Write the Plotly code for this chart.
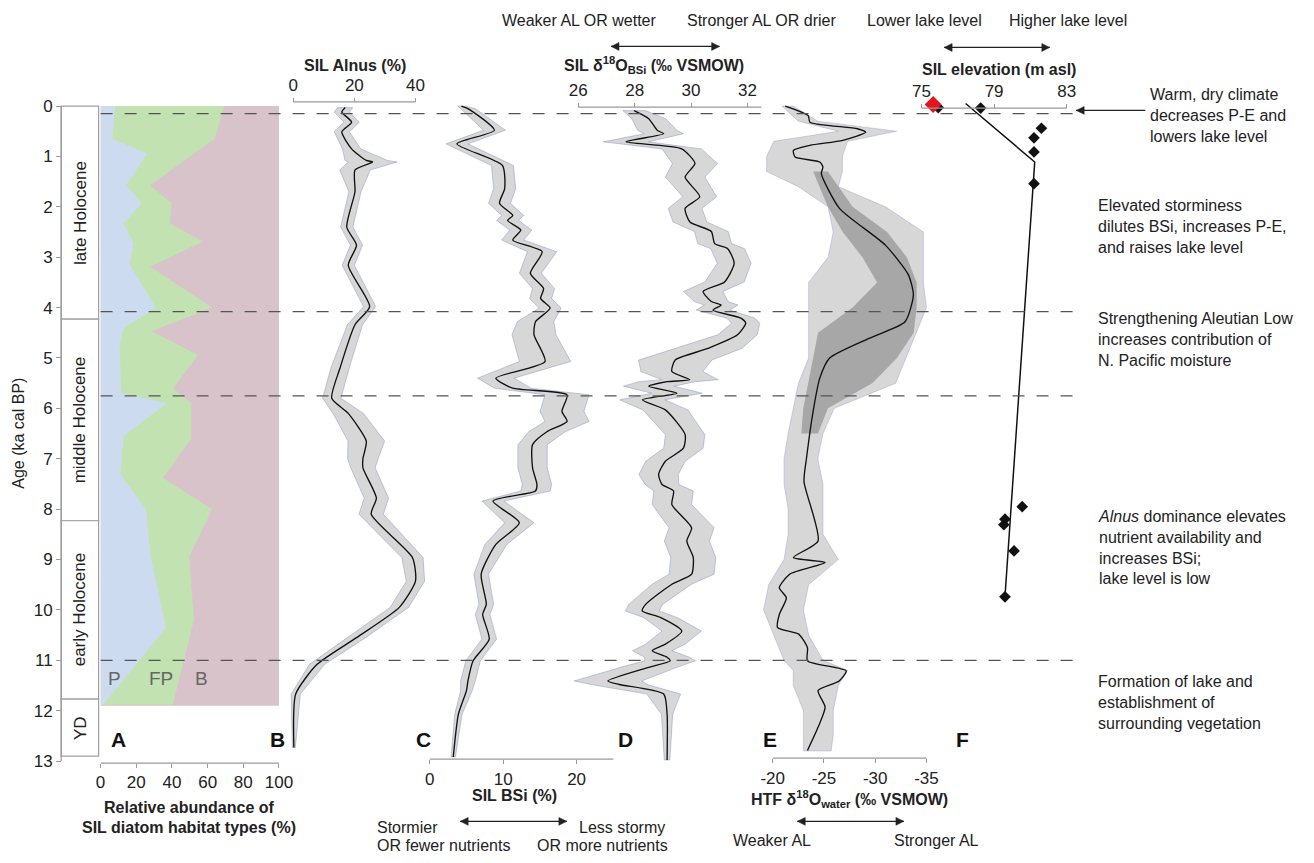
import plotly.graph_objects as go

W, H = 1314, 863
def X(p): return p / W
def Y(p): return 1 - p / H

FONT = "Arial, Liberation Sans, sans-serif"

# ---------------- data ----------------
# Panel A: cumulative habitat boundaries (%)
ages_P = [0, 0.65, 0.94, 1.57, 1.93, 2.33, 2.73, 3.15, 4.0, 4.4, 4.74, 5.7, 5.9, 6.55, 7.3, 8.0, 8.94, 10.35, 11.88]
P_bound = [8.3, 6.5, 26, 14.4, 23, 13, 18.5, 16.3, 31, 13, 10.7, 11.5, 37, 13, 11, 25.5, 28, 36.7, 1.5]
ages_FP = [0, 0.65, 1.57, 1.93, 2.33, 2.69, 3.19, 4.0, 4.47, 4.94, 5.6, 5.9, 6.6, 7.38, 8.0, 8.94, 10.2, 11.88]
FP_bound = [69.4, 63.9, 27.8, 39.8, 38.9, 57.4, 27.8, 62.6, 28.7, 54.6, 40.7, 50.9, 50.9, 35, 62.6, 49.6, 52.4, 40.4]
A_bottom_age = 11.9

# Panel B: SIL Alnus (%)
ages_B = [0.03, 0.12, 0.32, 0.51, 0.85, 1.08, 1.11, 1.27, 1.70, 2.40, 2.76, 3.16, 3.98, 4.34, 5.2, 5.8, 6.1,
          6.65, 7.0, 7.18, 7.78, 8.1, 8.96, 9.43, 9.95, 10.55, 11.08, 11.67, 12.73]
alnus = [17, 15.9, 19.1, 15.9, 19.1, 23.9, 26.0, 20.2, 20.2, 17.5, 20.7, 18.0, 25.0, 20.2, 15.3, 12.6, 18.0,
         23.9, 22.8, 22.8, 27.2, 25.5, 39.0, 40.0, 34.7, 20.7, 7.8, 0.8, 0.2]
alnus_sp = [2.5, 2.5, 2.5, 2.5, 3, 7, 8, 5, 2, 2, 2, 2, 2, 2.5, 3, 3, 5,
            6, 5, 4, 4, 4, 3.5, 3, 3, 3, 2.5, 1.5, 0.5]

# Panel C: SIL BSi (%)
ages_C = [0.0, 0.05, 0.48, 0.75, 1.18, 1.64, 1.93, 2.17, 2.27, 2.46, 2.66, 2.89, 3.32, 3.62, 3.82, 4.01, 4.28,
          4.54, 5.07, 5.40, 5.60, 5.73, 6.06, 6.26, 6.46, 6.72, 7.18, 7.51, 7.64, 7.84, 8.27, 8.70, 9.29, 9.89,
          10.09, 10.58, 11.01, 11.41, 11.60, 12.07, 12.92]
bsi = [4.3, 5.2, 8.8, 3.7, 9.9, 10.2, 9.5, 11.3, 10.6, 12.4, 11.3, 15.3, 13.7, 15.5, 15.1, 16.4, 14.4,
       14.2, 15.7, 9.0, 11.3, 18.7, 18.0, 18.7, 16.0, 14.0, 14.0, 14.6, 14.4, 8.6, 12.2, 9.0, 7.0, 7.7,
       7.2, 8.1, 5.9, 5.2, 5.0, 3.9, 3.2]
bsi_sp = [0.5, 1, 1.5, 1.5, 1.5, 1.5, 1.5, 1.5, 1.5, 1.5, 1.5, 2, 1.5, 1.5, 1.5, 1.5, 2.5,
          3, 3.5, 2.5, 2.5, 3, 3, 3, 2.5, 2, 2, 2, 2, 1.5, 2, 1.5, 1, 1,
          1, 1, 1, 1, 0.8, 0.5, 0.3]

# Panel D: SIL d18O BSi (permil VSMOW)
ages_D = [0.09, 0.25, 0.48, 0.55, 0.71, 0.85, 1.14, 1.41, 1.80, 2.03, 2.30, 2.49, 2.73, 2.83, 3.12, 3.49, 3.68,
          3.88, 3.95, 4.05, 4.21, 4.31, 4.54, 4.81, 5.04, 5.27, 5.43, 5.47, 5.56, 5.70, 5.83, 6.03, 6.52, 6.79,
          7.05, 7.31, 7.51, 7.64, 7.91, 8.37, 8.63, 8.96, 9.29, 9.49, 9.89, 10.02, 10.15, 10.42, 10.68, 10.81,
          10.94, 11.01, 11.14, 11.41, 11.48, 11.67, 12.07, 12.98]
d18o_bsi = [27.98, 28.5, 28.8, 29.03, 27.69, 29.67, 30.14, 29.79, 30.31, 29.79, 29.96, 30.72, 30.84, 31.30, 31.53,
            31.19, 30.43, 30.72, 31.07, 30.78, 31.77, 31.94, 31.65, 30.60, 29.44, 29.32, 29.96, 29.15, 28.5, 29.5,
            28.27, 29.09, 29.79, 29.73, 29.09, 28.85, 28.97, 29.38, 29.32, 30.02, 29.85, 30.08, 30.02, 29.32,
            28.39, 28.27, 28.91, 29.67, 29.09, 28.62, 29.15, 29.26, 28.5, 27.05, 27.45, 29.03, 29.15, 29.15]
d18o_bsi_sp = [0.4, 0.6, 0.7, 0.7, 0.8, 0.7, 0.8, 0.7, 0.6, 0.6, 0.6, 0.6, 0.6, 0.6, 0.6, 0.7, 0.7, 0.6, 0.6, 0.6,
               0.5, 0.5, 0.7, 1.2, 1.3, 1.1, 1.0, 1.0, 0.9, 0.9, 0.8, 0.8, 0.7, 0.7, 0.7, 0.7, 0.6, 0.7, 0.7, 0.8,
               0.8, 0.8, 0.8, 0.7, 0.6, 0.6, 0.6, 0.7, 0.7, 0.7, 0.8, 0.9, 1.0, 1.2, 1.0, 0.6, 0.2, 0.1]

# Panel E: HTF d18O water (permil VSMOW)
ages_E = [0.0, 0.19, 0.32, 0.45, 0.52, 0.68, 0.78, 0.88, 1.01, 1.11, 1.21, 1.34, 2.03, 2.76, 3.35, 3.75, 4.28,
          4.61, 5.00, 5.40, 6.06, 6.98, 7.45, 8.63, 8.96, 9.06, 9.29, 9.56, 9.76, 10.09, 10.35, 10.48, 10.75,
          11.01, 11.21, 11.41, 11.6, 11.93, 12.33, 12.79]
d18o_w = [-21.22, -23.46, -23.63, -28.27, -29.07, -26.83, -23.63, -22.02, -22.18, -24.59, -24.90, -24.74, -26.51,
          -30.99, -33.24, -33.72, -32.91, -29.39, -25.55, -24.59, -23.94, -23.30, -23.05, -24.42, -22.02, -25.11,
          -21.67, -20.64, -21.33, -20.64, -20.47, -22.53, -23.39, -23.39, -27.17, -26.48, -24.42, -25.11, -24.42,
          -23.39]
ages_Eb = [0.0, 0.3, 0.5, 0.7, 1.0, 1.3, 1.6, 2.0, 2.5, 3.0, 3.5, 4.0, 4.5, 5.0, 5.5, 6.0, 6.5, 7.0, 7.5, 8.0,
           8.5, 9.0, 9.5, 10.0, 10.5, 11.0, 11.2, 11.5, 12.0, 12.5, 12.8]
E_outer_lo = [-20.9, -22.5, -26.4, -20.1, -19.4, -19.4, -22.5, -25.4, -25.9, -25.4, -23.5, -23.5, -23.5, -23.5,
              -22.5, -22.0, -21.5, -21.1, -21.1, -21.5, -21.5, -21.1, -19.6, -19.1, -20.1, -21.1, -22.0, -22.0,
              -23.0, -23.0, -23.0]
E_outer_hi = [-22.0, -24.4, -32.1, -27.3, -26.8, -26.8, -26.4, -31.0, -34.7, -34.7, -34.7, -35.0, -34.0, -33.0,
              -32.0, -26.0, -24.9, -24.4, -24.9, -24.9, -24.9, -26.4, -23.5, -23.0, -23.5, -24.9, -27.3, -26.4,
              -25.9, -25.9, -25.7]
ages_Ed = [1.3, 2.0, 2.5, 3.0, 3.5, 4.0, 4.5, 5.0, 5.5, 6.0, 6.5]
E_dark_lo = [-23.94, -25.38, -26.83, -28.75, -30.19, -27.79, -24.42, -23.94, -23.46, -22.98, -22.79]
E_dark_hi = [-25.38, -27.79, -31.15, -33.08, -34.04, -34.04, -33.75, -32.12, -29.71, -25.38, -24.42]

# Panel F: SIL elevation (m asl)
ages_Fline = [-0.05, 1.11, 9.74]
elev_line = [77.43, 81.24, 79.6]
ages_Fpts = [0.04, 0.03, 0.44, 0.63, 0.91, 1.54, 7.95, 8.2, 8.31, 8.83, 9.74]
elev_pts = [78.26, 75.92, 81.61, 81.2, 81.2, 81.2, 80.55, 79.6, 79.54, 80.1, 79.6]
age_red = [-0.03]
elev_red = [75.64]

# periods and event lines
periods = [("late Holocene", 0.0, 4.23), ("middle Holocene", 4.23, 8.23),
           ("early Holocene", 8.23, 11.77), ("YD", 11.77, 12.9)]
event_ages = [0.15, 4.08, 5.75, 11.0]
age_ticks = list(range(0, 14))
E_ticks = [-20, -25, -30, -35]
E_ticktext = ["-20", "-25", "-30", "-35"]

# ---------------- figure ----------------
AGE0_PX, AGE13_PX = 107.3, 770.0
ppk = (AGE13_PX - AGE0_PX) / 13
yr_top = -0.25
fig = go.Figure()

BLUE_A = "rgb(205,219,241)"
GREEN_A = "rgb(194,226,178)"
MAUVE_A = "rgb(215,195,201)"
BAND = "rgba(150,150,150,0.38)"
BAND_DARK = "rgba(90,90,90,0.38)"
EDGE = "rgba(80,95,185,0.38)"
LINE = "#111111"

def band(xa, ages, lo, hi, fill, edge=EDGE, w=0.8):
    xs = list(lo) + list(hi)[::-1] + [lo[0]]
    ys = list(ages) + list(ages)[::-1] + [ages[0]]
    fig.add_trace(go.Scatter(x=xs, y=ys, xaxis=xa, yaxis="y", mode="lines", fill="toself",
                             fillcolor=fill, line=dict(color=edge, width=w), hoverinfo="skip"))

def curve(xa, ages, vals):
    fig.add_trace(go.Scatter(x=vals, y=ages, xaxis=xa, yaxis="y", mode="lines",
                             line=dict(color=LINE, width=1.35, shape="spline", smoothing=0.6),
                             hoverinfo="skip"))

# Panel A
fig.add_trace(go.Scatter(x=[0, 100, 100, 0, 0], y=[0, 0, A_bottom_age, A_bottom_age, 0], xaxis="x", yaxis="y",
                         mode="lines", fill="toself", fillcolor=MAUVE_A, line=dict(width=0), hoverinfo="skip"))
fig.add_trace(go.Scatter(x=FP_bound, y=ages_FP, xaxis="x", yaxis="y", mode="lines", fill="tozerox",
                         fillcolor=GREEN_A, line=dict(width=0), hoverinfo="skip"))
fig.add_trace(go.Scatter(x=P_bound, y=ages_P, xaxis="x", yaxis="y", mode="lines", fill="tozerox",
                         fillcolor=BLUE_A, line=dict(width=0), hoverinfo="skip"))

# Panel B
band("x2", ages_B, [v - s for v, s in zip(alnus, alnus_sp)], [v + s for v, s in zip(alnus, alnus_sp)], BAND)
curve("x2", ages_B, alnus)
# Panel C
band("x3", ages_C, [v - s for v, s in zip(bsi, bsi_sp)], [v + s for v, s in zip(bsi, bsi_sp)], BAND)
curve("x3", ages_C, bsi)
# Panel D
band("x4", ages_D, [v - s for v, s in zip(d18o_bsi, d18o_bsi_sp)],
     [v + s for v, s in zip(d18o_bsi, d18o_bsi_sp)], BAND)
curve("x4", ages_D, d18o_bsi)
# Panel E
band("x5", ages_Eb, E_outer_lo, E_outer_hi, BAND, edge="rgba(120,130,200,0.38)")
band("x5", ages_Ed, E_dark_lo, E_dark_hi, BAND_DARK, edge="rgba(80,80,80,0.0)")
curve("x5", ages_E, d18o_w)
# Panel F
fig.add_trace(go.Scatter(x=elev_line, y=ages_Fline, xaxis="x6", yaxis="y", mode="lines",
                         line=dict(color="#111", width=1.5), hoverinfo="skip"))
fig.add_trace(go.Scatter(x=elev_pts, y=ages_Fpts, xaxis="x6", yaxis="y", mode="markers",
                         marker=dict(symbol="diamond", size=9, color="#111"), hoverinfo="skip"))
fig.add_trace(go.Scatter(x=elev_red, y=age_red, xaxis="x6", yaxis="y", mode="markers",
                         marker=dict(symbol="diamond", size=13, color="#e5151e"), hoverinfo="skip"))

# ---------------- axes ----------------
tickfont = dict(family=FONT, size=17, color="#222")
def xax(dom_px, rng, side, pos_px, tickvals, ticktext=None):
    d = dict(domain=[X(dom_px[0]), X(dom_px[1])], range=rng, side=side, anchor="free",
             position=Y(pos_px), tickvals=tickvals, ticks="outside", ticklen=4, tickcolor="#999",
             showline=False, showgrid=False, zeroline=False, tickfont=tickfont, fixedrange=True)
    if ticktext is not None:
        d["ticktext"] = ticktext
    return d

rB = [(280 - 292.5) / 3.1, (445 - 292.5) / 3.1]
rC = [(425 - 431) / 7.45, (625 - 431) / 7.45]
rD = [26 + (565 - 581.7) / 28.6, 26 + (790 - 581.7) / 28.6]
rE = [-20 + (779 - 760) / 10.4, -20 - (955 - 779) / 10.4]
rF = [75 + (920 - 930) / 18.4, 75 + (1090 - 930) / 18.4]

axA, axC, axE = 772, 768, 767
axes_def = {
    "xaxis": xax((97, 278), [0, 100], "bottom", axA, [0, 20, 40, 60, 80, 100]),
    "xaxis2": xax((280, 445), rB, "top", 103, [0, 20, 40]),
    "xaxis3": xax((425, 625), rC, "bottom", axC, [0, 10, 20]),
    "xaxis4": xax((565, 790), rD, "top", 108.3, [26, 28, 30, 32]),
    "xaxis5": xax((760, 955), rE, "bottom", axE, E_ticks, E_ticktext),
    "xaxis6": xax((920, 1090), rF, "top", 109.3, [75, 79, 83]),
}
axis_lines = [("x", 0, 100, axA), ("x2", 0, 40, 103), ("x3", 0, 25, axC), ("x4", 26, 32.5, 108.3),
              ("x5", -20, -35, axE), ("x6", 75, 83, 109.3)]

shapes = []
for ref, a, b, ypx in axis_lines:
    shapes.append(dict(type="line", xref=ref, yref="paper", x0=a, x1=b, y0=Y(ypx), y1=Y(ypx),
                       line=dict(color="#9a9a9a", width=1.2)))
# y axis line
shapes.append(dict(type="line", xref="paper", yref="y", x0=X(57), x1=X(57), y0=0, y1=13,
                   line=dict(color="#9a9a9a", width=1.2)))
# period boxes
for name, a, b in periods:
    shapes.append(dict(type="rect", xref="paper", yref="y", x0=X(57), x1=X(95), y0=a, y1=b,
                       line=dict(color="#a0a0a0", width=1.2), fillcolor="white", layer="below"))
# event dashed lines
for ag in event_ages:
    shapes.append(dict(type="line", xref="paper", yref="y", x0=X(97), x1=X(1085), y0=ag, y1=ag,
                       line=dict(color="#555", width=1.3, dash="12px,12px"), layer="above"))

def arrow(x_tail, x_head, y, both=True, hl=8, hw=4):
    shapes.append(dict(type="line", xref="paper", yref="paper", x0=X(x_tail), x1=X(x_head), y0=Y(y), y1=Y(y),
                       line=dict(color="#222", width=1.3)))
    heads = [(x_head, x_tail)] + ([(x_tail, x_head)] if both else [])
    for hx, other in heads:
        d = 1 if other > hx else -1
        bx = hx + d * hl
        path = "M %f %f L %f %f L %f %f Z" % (X(hx), Y(y), X(bx), Y(y - hw), X(bx), Y(y + hw))
        shapes.append(dict(type="path", xref="paper", yref="paper", path=path,
                           fillcolor="#222", line=dict(color="#222", width=0.5)))

ann = []
def txt(s, x, y, size=16, bold=False, xanchor="center", yanchor="middle", color="#222", angle=0, align="center"):
    ann.append(dict(text=("<b>%s</b>" % s) if bold else s, x=X(x), y=Y(y), xref="paper", yref="paper",
                    showarrow=False, xanchor=xanchor, yanchor=yanchor, align=align, textangle=angle,
                    font=dict(family=FONT, size=size, color=color)))

for name, a, b in periods:
    txt(name, 76.5, AGE0_PX + (a + b) / 2 * ppk, size=17, angle=-90)
txt("Age (ka cal BP)", 14, 438, size=16, angle=-90)

# panel A labels
txt("P", 111, 686, size=19, color="#666")
txt("FP", 158, 686, size=19, color="#666")
txt("B", 199, 686, size=19, color="#666")
txt("Relative abundance of", 187, 817, size=16, bold=True)
txt("SIL diatom habitat types (%)", 187, 837, size=16, bold=True)

# letters
for L, x in [("A", 115), ("B", 276), ("C", 425), ("D", 630), ("E", 776), ("F", 972)]:
    txt(L, x, 748, size=21, bold=True, color="#111")

# panel B title
txt("SIL Alnus (%)", 355, 66, size=16, bold=True)
# panel C
txt("SIL BSi (%)", 517, 805, size=16, bold=True)
arrow(462, 570, 831)
txt("Stormier", 375, 837, size=16, xanchor="left")
txt("OR fewer nutrients", 375, 855, size=16, xanchor="left")
txt("Less stormy", 672, 837, size=16, xanchor="right")
txt("OR more nutrients", 675, 855, size=16, xanchor="right")
# panel D
txt("Weaker AL OR wetter", 583, 21, size=16)
txt("Stronger AL OR drier", 768, 21, size=16)
arrow(615, 725, 47)
txt("SIL δ<sup>18</sup>O<sub>BSi</sub> (‰ VSMOW)", 659, 66, size=16, bold=True)
# panel E
txt("HTF δ<sup>18</sup>O<sub>water</sub> (‰ VSMOW)", 857, 808, size=16, bold=True)
arrow(804, 912, 831)
txt("Weaker AL", 778, 850, size=16)
txt("Stronger AL", 945, 850, size=16)
# panel F
txt("Lower lake level", 933, 21, size=16)
txt("Higher lake level", 1079, 21, size=16)
arrow(953, 1060, 48)
txt("SIL elevation (m asl)", 1009, 70, size=16, bold=True)
arrow(1157, 1087, 111.7, both=False)

# right-side interpretations
txt("Warm, dry climate<br>decreases P-E and<br>lowers lake level", 1160, 117, xanchor="left", align="left")
txt("Elevated storminess<br>dilutes BSi, increases P-E,<br>and raises lake level", 1107, 229,
    xanchor="left", align="left")
txt("Strengthening Aleutian Low<br>increases contribution of<br>N. Pacific moisture", 1107, 343,
    xanchor="left", align="left")
txt("<i>Alnus</i> dominance elevates<br>nutrient availability and<br>increases BSi;<br>lake level is low",
    1107, 554, xanchor="left", align="left")
txt("Formation of lake and<br>establishment of<br>surrounding vegetation", 1107, 711,
    xanchor="left", align="left")

fig.update_layout(
    width=W, height=H, margin=dict(l=0, r=0, t=0, b=0, pad=0),
    paper_bgcolor="white", plot_bgcolor="rgba(0,0,0,0)", showlegend=False,
    font=dict(family=FONT, size=16, color="#222"),
    yaxis=dict(domain=[Y(AGE13_PX), Y(AGE0_PX + yr_top * ppk)], range=[13, yr_top], anchor="free",
               position=X(57), side="left", tickvals=age_ticks, ticks="outside", ticklen=5,
               tickcolor="#999", showline=False, showgrid=False, zeroline=False,
               tickfont=tickfont, fixedrange=True),
    shapes=shapes, annotations=ann, **axes_def)

fig.write_html("out.html")
